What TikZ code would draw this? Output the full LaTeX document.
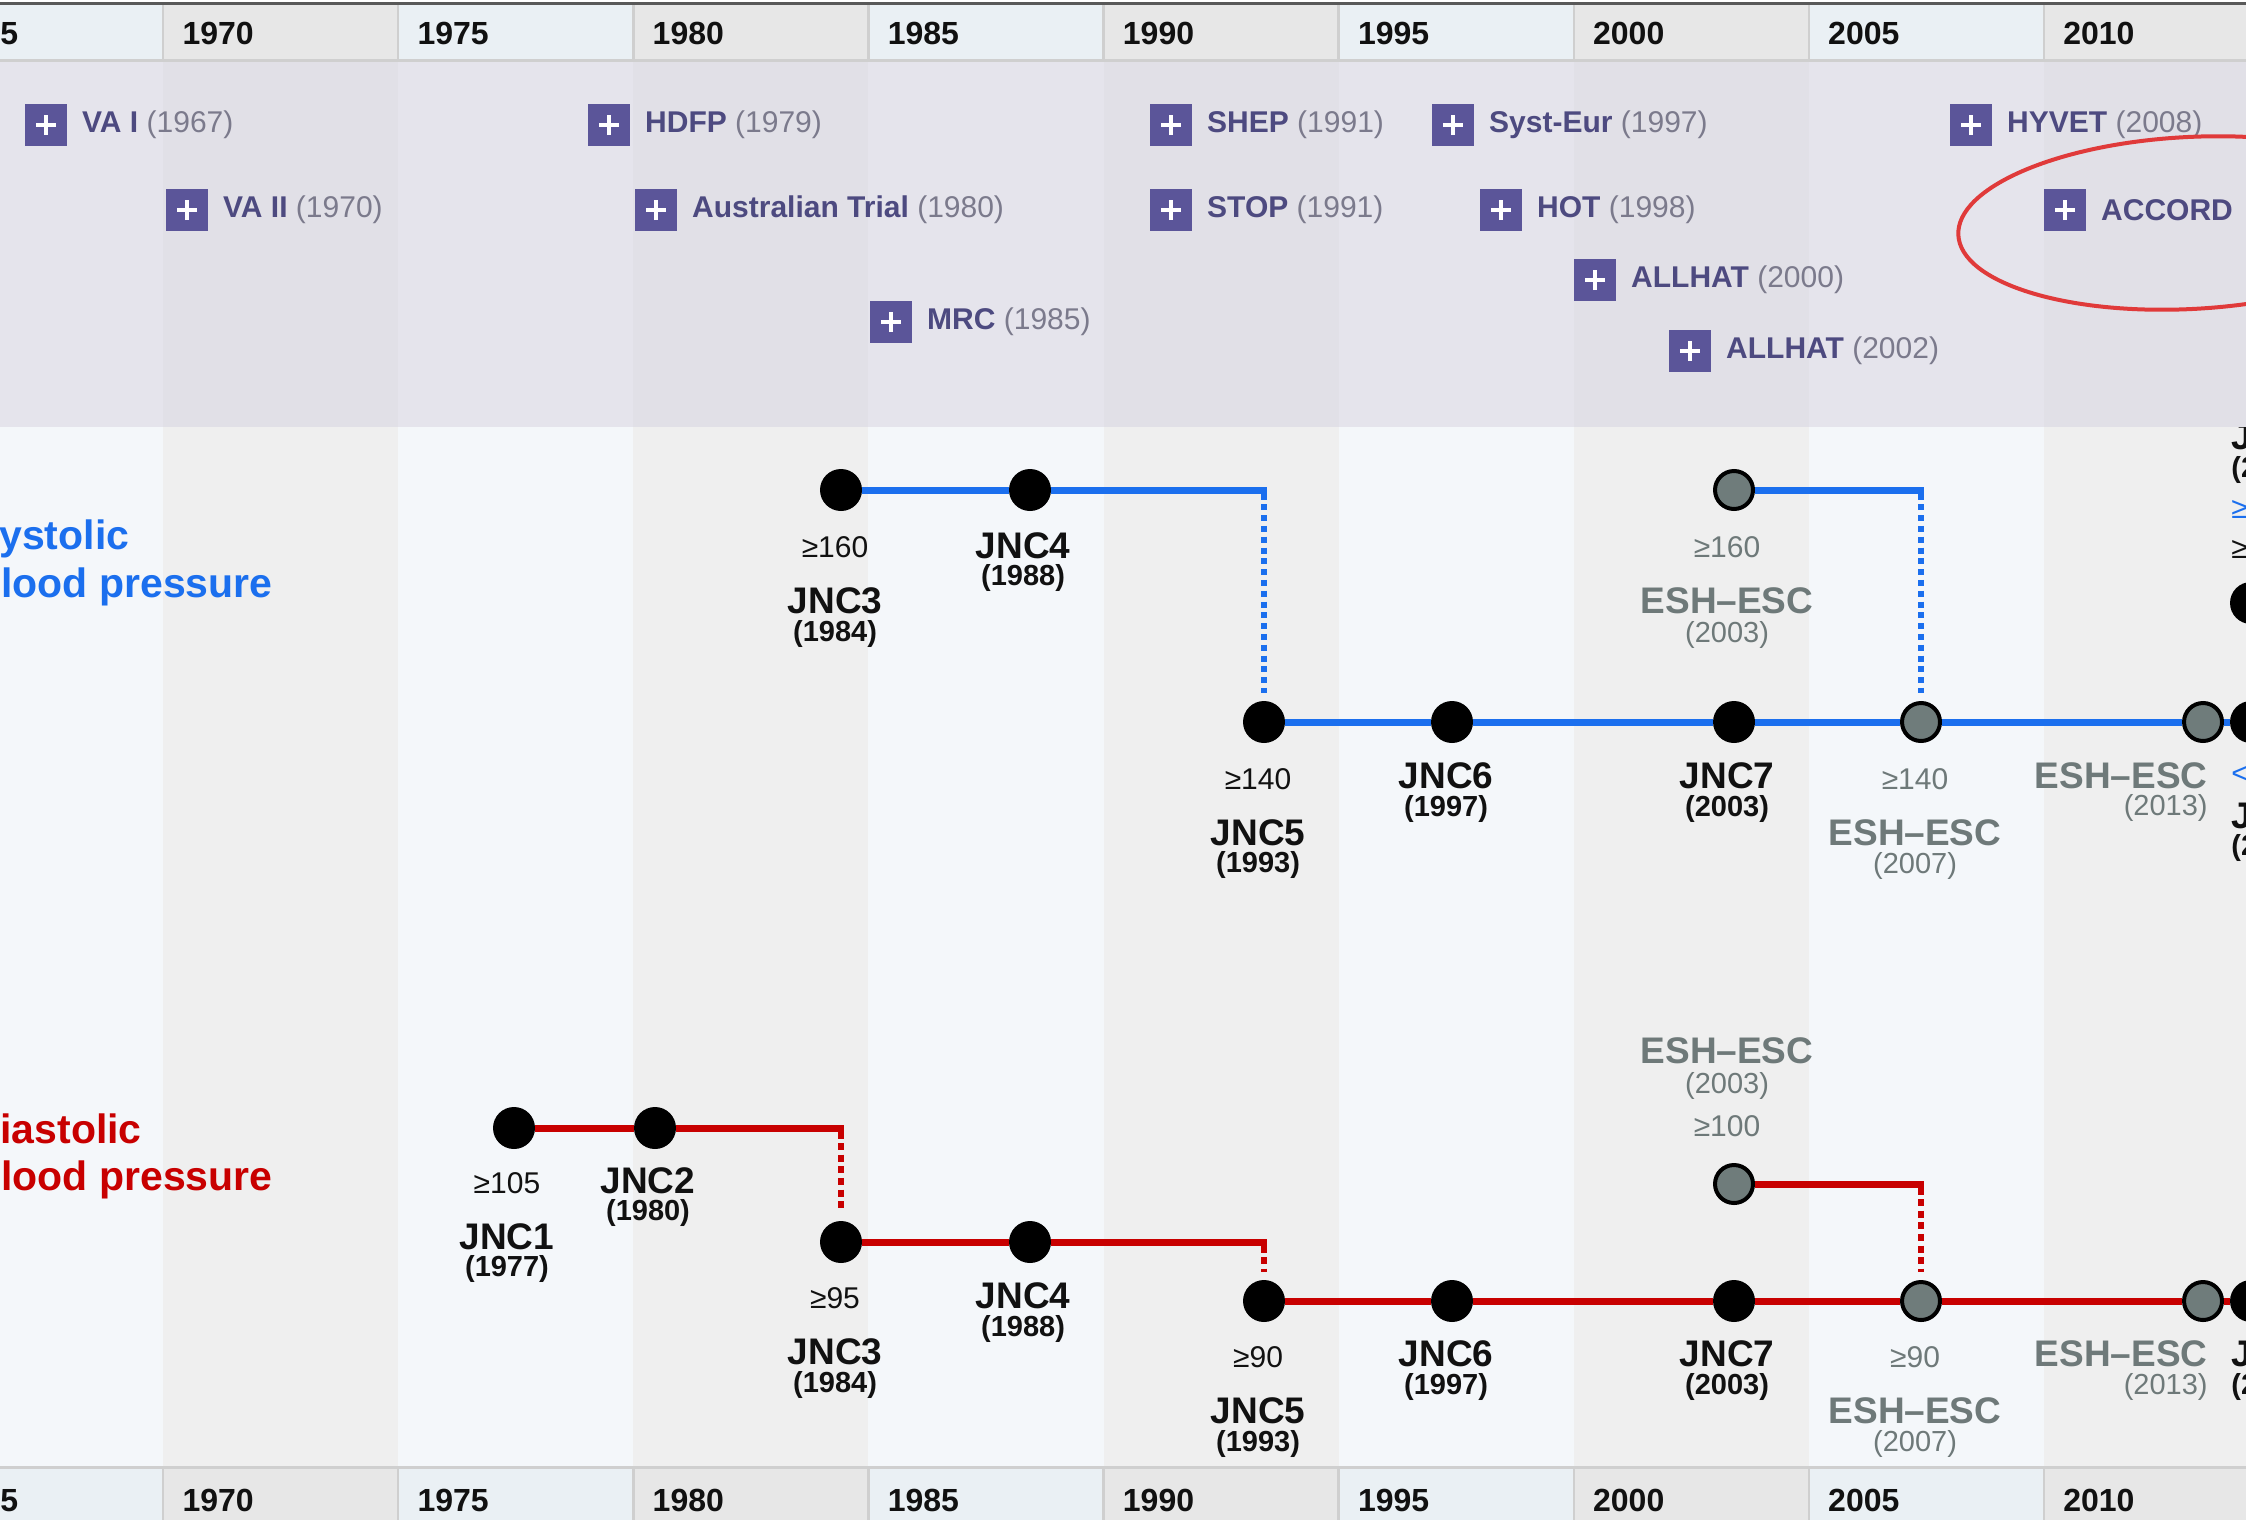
\documentclass[tikz,border=0pt]{standalone}
\usepackage{fontspec}
\setmainfont{Liberation Sans}
\definecolor{mainA}{HTML}{F4F7FA}
\definecolor{mainB}{HTML}{EFEFEF}
\definecolor{trialA}{HTML}{E5E4EC}
\definecolor{trialB}{HTML}{E1E0E7}
\definecolor{hdrA}{HTML}{EAF0F4}
\definecolor{hdrB}{HTML}{E7E7E7}
\definecolor{hdrsep}{HTML}{CFCFCF}
\definecolor{topline}{HTML}{595959}
\definecolor{tboxc}{HTML}{5B5599}
\definecolor{tname}{HTML}{4D4A80}
\definecolor{tyear}{HTML}{7B7A8C}
\definecolor{sysblue}{HTML}{1B6FEE}
\definecolor{diared}{HTML}{C80000}
\definecolor{gfill}{HTML}{6F7C7B}
\definecolor{gtext}{HTML}{6E7979}
\definecolor{ringc}{HTML}{E03A3A}
\definecolor{ink}{HTML}{111111}
\tikzset{
  trialbox/.style={fill=tboxc, minimum size=21pt, inner sep=0pt, anchor=west,
    path picture={
      \draw[white,line width=2pt] ([xshift=-5pt]path picture bounding box.center) -- ([xshift=5pt]path picture bounding box.center);
      \draw[white,line width=2pt] ([yshift=-5pt]path picture bounding box.center) -- ([yshift=5pt]path picture bounding box.center);}},
  triallab/.style={anchor=west, inner sep=0pt, font=\fontsize{15pt}{18pt}\selectfont},
  yearlab/.style={anchor=base west, inner sep=0pt, text=ink, font=\fontsize{16pt}{19pt}\selectfont\bfseries},
  bdot/.style={circle, fill=black, minimum size=21pt, inner sep=0pt},
  gdot/.style={circle, fill=gfill, draw=black, line width=2pt, minimum size=19pt, inner sep=0pt},
  thr/.style={inner sep=0pt, text=ink, font=\fontsize{15pt}{18pt}\selectfont},
  jname/.style={inner sep=0pt, text=ink, font=\fontsize{18.5pt}{22pt}\selectfont\bfseries},
  jyear/.style={inner sep=0pt, text=ink, font=\fontsize{14.5pt}{17pt}\selectfont\bfseries},
  gthr/.style={thr, text=gtext},
  gname/.style={jname, text=gtext},
  gyear/.style={inner sep=0pt, text=gtext, font=\fontsize{14.5pt}{17pt}\selectfont},
  sysline/.style={draw=sysblue, line width=3.5pt},
  sysdash/.style={draw=sysblue, line width=3pt, dash pattern=on 3pt off 2.4pt},
  dialine/.style={draw=diared, line width=3.5pt},
  diadash/.style={draw=diared, line width=3pt, dash pattern=on 3.5pt off 2.3pt},
  bplabel/.style={anchor=base west, inner sep=0pt, font=\fontsize{20.5pt}{24pt}\selectfont\bfseries},
}
\begin{document}
\begin{tikzpicture}[x=0.5pt,y=-0.5pt]
\useasboundingbox (0,0) rectangle (2246,1520);
\clip (0,0) rectangle (2246,1520);
\fill[white] (0,0) rectangle (2246,1520);
% columns: main area and headers
\foreach \i/\c in {0/A,1/B,2/A,3/B,4/A,5/B,6/A,7/B,8/A,9/B}{
  \pgfmathsetmacro{\xl}{-72+235.1*\i}
  \fill[hdr\c] (\xl,5) rectangle ++(235.1,55);
  \fill[main\c] (\xl,427) rectangle ++(235.1,1041);
  \fill[hdr\c] (\xl,1468) rectangle ++(235.1,52);
}
% partly hidden letter at the right edge (under the trial band)
\node[jname, anchor=west] (rjs1) at (2231,437) {J};
% trial band
\foreach \i/\c in {0/A,1/B,2/A,3/B,4/A,5/B,6/A,7/B,8/A,9/B}{
  \pgfmathsetmacro{\xl}{-72+235.1*\i}
  \fill[trial\c] (\xl,62) rectangle ++(235.1,365);
}
% header borders and separators
\fill[topline] (0,2) rectangle (2246,5);
\fill[hdrsep] (0,59) rectangle (2246,62);
\fill[hdrsep] (0,1466) rectangle (2246,1469);
\foreach \i in {1,...,9}{
  \pgfmathsetmacro{\xl}{-72+235.1*\i}
  \fill[hdrsep] (\xl-1.2,5) rectangle (\xl+1.2,59);
  \fill[hdrsep] (\xl-1.2,1469) rectangle (\xl+1.2,1520);
  \pgfmathtruncatemacro{\yr}{1965+5*\i}
  \node[yearlab] (hy\i) at (\xl+19,45) {\yr};
  \node[yearlab] (hb\i) at (\xl+19,1511) {\yr};
}
\node[yearlab] (hy0) at (0,45) {5};
\node[yearlab] (hb0) at (0,1511) {5};

% trials
\foreach \n/\x/\y/\name/\yy in {
  t1/25/125/VA I/(1967),
  t2/166/210/VA II/(1970),
  t3/588/125/HDFP/(1979),
  t4/635/210/Australian Trial/(1980),
  t5/870/322/MRC/(1985),
  t6/1150/125/SHEP/(1991),
  t7/1150/210/STOP/(1991),
  t8/1432/125/Syst-Eur/(1997),
  t9/1480/210/HOT/(1998),
  t10/1574/280/ALLHAT/(2000),
  t11/1669/351/ALLHAT/(2002),
  t12/1950/125/HYVET/(2008)}{
  \node[trialbox] (\n) at (\x,\y) {};
  \node[triallab] (\n l) at ([xshift=7pt]\n.east) {{\bfseries\color{tname}\name} {\color{tyear}\yy}};
}
\node[trialbox] (t13) at (2044,210) {};
\node[triallab] (t13l) at ([xshift=7pt]t13.east) {{\bfseries\color{tname}ACCORD}};

% left labels
\node[bplabel, text=sysblue] (sysa) at (-1,549) {ystolic};
\node[bplabel, text=sysblue] (sysb) at (1,597) {lood pressure};
\node[bplabel, text=diared] (diaa) at (0,1143) {iastolic};
\node[bplabel, text=diared] (diab) at (1,1190) {lood pressure};

% ---------- systolic ----------
\node[bdot] (s3) at (841,490) {};
\node[bdot] (s4) at (1030,490) {};
\coordinate (sc1) at (1267,490);
\node[bdot] (s5) at (1264,722) {};
\node[bdot] (s6) at (1452,722) {};
\node[bdot] (s7) at (1734,722) {};
\node[gdot] (s8) at (1921,722) {};
\node[gdot] (s9) at (2203,722) {};
\node[bdot] (s10) at (2251,722) {};
\node[gdot] (sg) at (1734,490) {};
\coordinate (sc2) at (1924,490);
\node[bdot] (sx) at (2251,603) {};

\draw[sysline] (s3) -- (s4);
\draw[sysline] (s4) -- (sc1);
\draw[sysdash] ([yshift=-1.75pt]s5 |- sc1) -- ([yshift=4pt]s5.north);
\draw[sysline] (s5) -- (s6);
\draw[sysline] (s6) -- (s7);
\draw[sysline] (s7) -- (s8);
\draw[sysline] (s8) -- (s9);
\draw[sysline] (s9) -- (s10);
\draw[sysline] (sg) -- (sc2);
\draw[sysdash] ([yshift=-1.75pt]s8 |- sc2) -- ([yshift=4pt]s8.north);

\node[thr] (l1) at (835,547) {≥160};
\node[jname] (l2) at (835,601) {JNC3};
\node[jyear] (l3) at (835,634) {(1984)};
\node[jname] (l4) at (1023,546) {JNC4};
\node[jyear] (l5) at (1023,578) {(1988)};
\node[thr] (l6) at (1258,779) {≥140};
\node[jname] (l7) at (1258,833) {JNC5};
\node[jyear] (l8) at (1258,865) {(1993)};
\node[jname] (l9) at (1446,776) {JNC6};
\node[jyear] (l10) at (1446,809) {(1997)};
\node[jname] (l11) at (1727,776) {JNC7};
\node[jyear] (l12) at (1727,809) {(2003)};
\node[gthr] (l13) at (1915,779) {≥140};
\node[gname] (l14) at (1915,833) {ESH–ESC};
\node[gyear] (l15) at (1915,866) {(2007)};
\node[gname, anchor=east] (l16) at (2208,776) {ESH–ESC};
\node[gyear, anchor=east] (l17) at (2208,808) {(2013)};
\node[gthr] (l18) at (1727,547) {≥160};
\node[gname] (l19) at (1727,601) {ESH–ESC};
\node[gyear] (l20) at (1727,635) {(2003)};
% right-edge fragments
\node[jyear, anchor=west] (rjs2) at (2231,470) {(2};
\node[thr, text=sysblue, anchor=west] (rjs3) at (2231,509) {≥};
\node[thr, anchor=west] (rjs4) at (2231,549) {≥};
\node[thr, text=sysblue, anchor=west] (rjs5) at (2231,775) {<};
\node[jname, anchor=west] (rjs6) at (2231,816) {J};
\node[jyear, anchor=west] (rjs7) at (2231,848) {(2};

% ---------- diastolic ----------
\node[bdot] (d1) at (514,1128) {};
\node[bdot] (d2) at (655,1128) {};
\coordinate (dc1) at (844,1128);
\node[bdot] (d3) at (841,1242) {};
\node[bdot] (d4) at (1030,1242) {};
\coordinate (dc2) at (1267,1242);
\node[bdot] (d5) at (1264,1301) {};
\node[bdot] (d6) at (1452,1301) {};
\node[bdot] (d7) at (1734,1301) {};
\node[gdot] (d8) at (1921,1301) {};
\node[gdot] (d9) at (2203,1301) {};
\node[bdot] (d10) at (2251,1301) {};
\node[gdot] (dg) at (1734,1184) {};
\coordinate (dc3) at (1924,1184);

\draw[dialine] (d1) -- (d2);
\draw[dialine] (d2) -- (dc1);
\draw[diadash] ([yshift=-1.75pt]d3 |- dc1) -- ([yshift=4pt]d3.north);
\draw[dialine] (d3) -- (d4);
\draw[dialine] (d4) -- (dc2);
\draw[diadash] ([yshift=-1.75pt]d5 |- dc2) -- ([yshift=4pt]d5.north);
\draw[dialine] (d5) -- (d6);
\draw[dialine] (d6) -- (d7);
\draw[dialine] (d7) -- (d8);
\draw[dialine] (d8) -- (d9);
\draw[dialine] (d9) -- (d10);
\draw[dialine] (dg) -- (dc3);
\draw[diadash] ([yshift=-1.75pt]d8 |- dc3) -- ([yshift=4pt]d8.north);

\node[thr] (m1) at (507,1183) {≥105};
\node[jname] (m2) at (507,1237) {JNC1};
\node[jyear] (m3) at (507,1269) {(1977)};
\node[jname] (m4) at (648,1181) {JNC2};
\node[jyear] (m5) at (648,1213) {(1980)};
\node[thr] (m6) at (835,1298) {≥95};
\node[jname] (m7) at (835,1352) {JNC3};
\node[jyear] (m8) at (835,1385) {(1984)};
\node[jname] (m9) at (1023,1296) {JNC4};
\node[jyear] (m10) at (1023,1329) {(1988)};
\node[thr] (m11) at (1258,1357) {≥90};
\node[jname] (m12) at (1258,1411) {JNC5};
\node[jyear] (m13) at (1258,1444) {(1993)};
\node[jname] (m14) at (1446,1354) {JNC6};
\node[jyear] (m15) at (1446,1387) {(1997)};
\node[jname] (m16) at (1727,1354) {JNC7};
\node[jyear] (m17) at (1727,1387) {(2003)};
\node[gthr] (m18) at (1915,1357) {≥90};
\node[gname] (m19) at (1915,1411) {ESH–ESC};
\node[gyear] (m20) at (1915,1444) {(2007)};
\node[gname, anchor=east] (m21) at (2208,1354) {ESH–ESC};
\node[gyear, anchor=east] (m22) at (2208,1387) {(2013)};
\node[gname] (m23) at (1727,1051) {ESH–ESC};
\node[gyear] (m24) at (1727,1086) {(2003)};
\node[gthr] (m25) at (1727,1126) {≥100};
\node[jname, anchor=west] (rjd1) at (2231,1354) {J};
\node[jyear, anchor=west] (rjd2) at (2231,1387) {(2};

% highlight ring
\draw[ringc, line width=2pt, rotate around={3:(2190,223)}] (2190,223) ellipse [x radius=232, y radius=86];
\end{tikzpicture}
\end{document}
